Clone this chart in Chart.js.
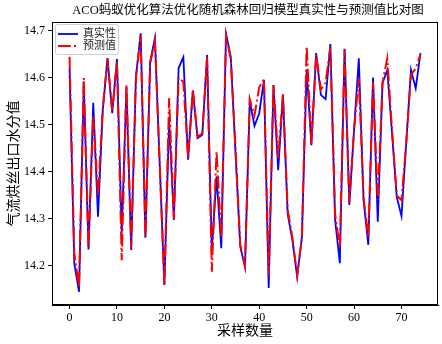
<!DOCTYPE html>
<html><head><meta charset="utf-8">
<script src="https://cdn.jsdelivr.net/npm/chart.js@4.4.0/dist/chart.umd.min.js"></script>
<style>html,body{margin:0;padding:0;background:#fff}#wrap{width:442px;height:344px}</style>
</head><body><div id="wrap"><canvas id="c" width="442" height="344"></canvas></div>
<script>
const titleText = "ACO蚂蚁优化算法优化随机森林回归模型真实性与预测值比对图";
const xTitle = "采样数量";
const yTitle = "气流烘丝出口水分值";
const seriesNames = ["真实性", "预测值"];
const xTicks = [0, 10, 20, 30, 40, 50, 60, 70];
const yTicks = [14.2, 14.3, 14.4, 14.5, 14.6, 14.7];
const actual = [14.62,14.205,14.145,14.59,14.235,14.547,14.305,14.53,14.642,14.525,
14.64,14.27,14.58,14.234,14.603,14.695,14.26,14.635,14.685,14.42,
14.16,14.51,14.298,14.621,14.644,14.426,14.573,14.472,14.479,14.649,
14.234,14.39,14.238,14.694,14.645,14.44,14.241,14.198,14.55,14.498,
14.525,14.596,14.153,14.585,14.404,14.564,14.31,14.255,14.177,14.262,
14.617,14.457,14.653,14.564,14.555,14.672,14.298,14.206,14.662,14.33,
14.49,14.642,14.34,14.245,14.601,14.294,14.589,14.617,14.483,14.347,
14.306,14.462,14.617,14.578,14.653];
const predicted = [14.645,14.228,14.155,14.6,14.24,14.52,14.35,14.535,14.64,14.53,
14.635,14.212,14.585,14.24,14.6,14.69,14.262,14.63,14.68,14.42,
14.158,14.557,14.3,14.6,14.592,14.43,14.575,14.475,14.482,14.645,
14.188,14.443,14.26,14.69,14.64,14.45,14.245,14.2,14.555,14.52,
14.58,14.597,14.18,14.585,14.43,14.565,14.32,14.26,14.18,14.26,
14.667,14.46,14.65,14.575,14.59,14.665,14.31,14.24,14.66,14.335,
14.49,14.6,14.345,14.26,14.59,14.34,14.59,14.642,14.49,14.35,
14.34,14.46,14.607,14.62,14.65];
const xs = actual.map((_, i) => i);

const FONT = "'Liberation Serif','Noto Sans CJK SC',serif";

const deco = {
  id: 'deco',
  afterDraw(chart) {
    const ctx = chart.ctx, a = chart.chartArea;
    ctx.save();
    ctx.strokeStyle = '#000'; ctx.lineWidth = 1;
    ctx.strokeRect(a.left + 0.5, a.top + 0.5, a.right - a.left - 1, a.bottom - a.top - 1);
    ctx.fillStyle = '#000';
    ctx.textAlign = 'center'; ctx.textBaseline = 'middle';
    ctx.font = "12.5px " + FONT;
    ctx.fillText(titleText, (a.left + a.right) / 2 + 3, 11);
    ctx.font = "14px " + FONT;
    ctx.fillText(xTitle, (a.left + a.right) / 2, 331);
    ctx.save();
    ctx.translate(14, (a.top + a.bottom) / 2);
    ctx.rotate(-Math.PI / 2);
    ctx.fillText(yTitle, 0, 0);
    ctx.restore();
    // legend
    const lx = a.left + 3, ly = a.top + 2, lw = 63, lh = 30;
    ctx.fillStyle = 'rgba(255,255,255,0.8)';
    ctx.strokeStyle = '#d0d0d0';
    ctx.beginPath();
    ctx.roundRect(lx + 0.5, ly + 0.5, lw, lh, 2);
    ctx.fill(); ctx.stroke();
    const ds = chart.data.datasets;
    for (let k = 1; k >= 0; k--) {}
    const order = [0, 1];
    for (const k of order) {
      const yy = ly + 10 + k * 12;
      ctx.strokeStyle = ds[k].borderColor;
      ctx.lineWidth = ds[k].borderWidth;
      ctx.setLineDash(ds[k].borderDash || []);
      ctx.beginPath(); ctx.moveTo(lx + 3, yy); ctx.lineTo(lx + 23, yy); ctx.stroke();
      ctx.setLineDash([]);
      ctx.fillStyle = '#222';
      ctx.textAlign = 'left';
      ctx.font = "11px " + FONT;
      ctx.fillText(seriesNames[k], lx + 28, yy);
    }
    ctx.restore();
  }
};

new Chart(document.getElementById('c'), {
  type: 'line',
  data: {
    datasets: [
      { label: seriesNames[0], data: xs.map((x, i) => ({x, y: actual[i]})), borderColor: '#0000ff', borderWidth: 1.8, pointRadius: 0, fill: false, tension: 0, order: 2 },
      { label: seriesNames[1], data: xs.map((x, i) => ({x, y: predicted[i]})), borderColor: '#ff0000', borderWidth: 2, borderDash: [12.8, 3.2, 2, 3.2], pointRadius: 0, fill: false, tension: 0, order: 1 }
    ]
  },
  options: {
    responsive: false, animation: false, devicePixelRatio: 1,
    layout: { padding: { top: 22, right: 4, left: 0, bottom: 0 } },
    plugins: { legend: { display: false }, title: { display: false }, tooltip: { enabled: false } },
    scales: {
      x: {
        type: 'linear', min: -3.7, max: 77.7,
        afterBuildTicks: s => { s.ticks = xTicks.map(v => ({ value: v })); },
        afterFit: s => { s.height = 39; },
        grid: { drawOnChartArea: false, drawTicks: true, tickLength: 4, color: '#000' },
        border: { display: true, color: '#000' },
        ticks: { font: { family: FONT, size: 12 }, color: '#000', padding: 2, maxRotation: 0 }
      },
      y: {
        type: 'linear', min: 14.117, max: 14.719,
        afterBuildTicks: s => { s.ticks = yTicks.map(v => ({ value: v })); },
        afterFit: s => { s.width = 52; },
        grid: { drawOnChartArea: false, drawTicks: true, tickLength: 4, color: '#000' },
        border: { display: true, color: '#000' },
        ticks: { font: { family: FONT, size: 12 }, color: '#000', padding: 3, callback: v => v.toFixed(1) }
      }
    }
  },
  plugins: [deco]
});
</script></body></html>
